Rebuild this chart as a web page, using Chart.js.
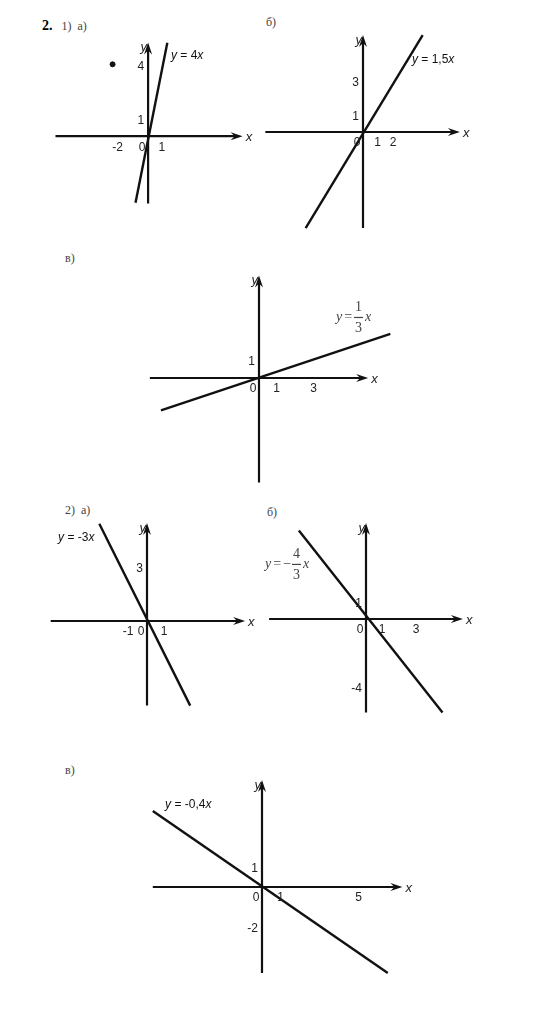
<!DOCTYPE html>
<html>
<head>
<meta charset="utf-8">
<script src="https://cdn.jsdelivr.net/npm/chart.js@4.4.1/dist/chart.umd.min.js"></script>
<style>
    body { margin: 0; background: #fff; }
    #page { position: relative; width: 550px; height: 1020px; overflow: hidden; }
    #page canvas { position: absolute; }
    .cap { position: absolute; font-family: "Liberation Serif", serif; font-size: 12px; line-height: 14px; color: #444; white-space: pre; }
    .num { font-weight: bold; color: #000; font-size: 14px; }
</style>
</head>
<body>
<div id="page">
    <div class="cap" style="left:42px;top:19px"><span class="num">2.</span>   1)  а)</div>
    <div class="cap" style="left:266px;top:15px">б)</div>
    <div class="cap" style="left:65px;top:251px">в)</div>
    <div class="cap" style="left:65px;top:503px">2)  а)</div>
    <div class="cap" style="left:267px;top:505px">б)</div>
    <div class="cap" style="left:65px;top:763px">в)</div>
</div>
<script>
// 1) а) y = 4x
const a1AxisX = [-6.26, 6.39];
const a1AxisY = [-3.74, 5.21];
const a1LineX = [-0.85, 1.3];
const a1LineY = [-3.7, 5.2];
const a1DotX = [-2.4];
const a1DotY = [4];
const a1TicksX = [-2, 1];
const a1TicksY = [1, 4];

// б) y = 1,5x
const b1AxisX = [-6.3, 6.25];
const b1AxisY = [-5.65, 5.7];
const b1LineX = [-3.7, 3.85];
const b1LineY = [-5.65, 5.7];
const b1TicksX = [1, 2];
const b1TicksY = [1, 3];

// в) y = 1/3 x
const c1AxisX = [-5.9, 5.9];
const c1AxisY = [-5.8, 5.7];
const c1LineX = [-5.3, 7.1];
const c1LineY = [-1.8, 2.45];
const c1TicksX = [1, 3];
const c1TicksY = [1];

// 2) а) y = -3x
const a2AxisX = [-5.35, 5.45];
const a2AxisY = [-4.7, 5.45];
const a2LineX = [-2.65, 2.4];
const a2LineY = [5.4, -4.7];
const a2TicksX = [-1, 1];
const a2TicksY = [3];

// б) y = -4/3 x
const b2AxisX = [-5.7, 5.7];
const b2AxisY = [-5.5, 5.65];
const b2LineX = [-3.95, 4.5];
const b2LineY = [5.2, -5.5];
const b2TicksX = [1, 3];
const b2TicksY = [1, -4];

// в) y = -0,4x
const c2AxisX = [-5.6, 7.2];
const c2AxisY = [-4.3, 5.35];
const c2LineX = [-5.6, 6.45];
const c2LineY = [3.8, -4.3];
const c2TicksX = [1, 5];
const c2TicksY = [1, -2];

const SANS = '"Liberation Sans", Arial, sans-serif';
const SERIF = '"Liberation Serif", serif';
const INK = '#111';

// box = [left, top, width, height], origin = pixel of (0,0), unit = px per 1
const panels = [
    { box: [40, 30, 220, 185], origin: [148, 137], unit: [15.5, 19],
      axisX: a1AxisX, axisY: a1AxisY, lineX: a1LineX, lineY: a1LineY, dotX: a1DotX, dotY: a1DotY,
      ticksX: a1TicksX, ticksY: a1TicksY,
      label: { at: [1.55, 4.47], runs: [['y', 1], [' = 4', 0], ['x', 1]] } },
    { box: [255, 28, 225, 205], origin: [363, 132], unit: [15.5, 17],
      axisX: b1AxisX, axisY: b1AxisY, lineX: b1LineX, lineY: b1LineY,
      ticksX: b1TicksX, ticksY: b1TicksY,
      label: { at: [3.16, 4.24], runs: [['y', 1], [' = 1,5', 0], ['x', 1]] } },
    { box: [140, 265, 265, 222], origin: [259, 378], unit: [18.5, 18],
      axisX: c1AxisX, axisY: c1AxisY, lineX: c1LineX, lineY: c1LineY,
      ticksX: c1TicksX, ticksY: c1TicksY,
      frac: { at: [4.16, 3.39], neg: false, num: '1', den: '3' } },
    { box: [40, 515, 220, 195], origin: [147, 621], unit: [18, 18],
      axisX: a2AxisX, axisY: a2AxisY, lineX: a2LineX, lineY: a2LineY,
      ticksX: a2TicksX, ticksY: a2TicksY,
      label: { at: [-4.94, 4.61], runs: [['y', 1], [' = -3', 0], ['x', 1]] } },
    { box: [255, 515, 225, 205], origin: [366, 619], unit: [17, 17],
      axisX: b2AxisX, axisY: b2AxisY, lineX: b2LineX, lineY: b2LineY,
      ticksX: b2TicksX, ticksY: b2TicksY,
      frac: { at: [-5.94, 3.24], neg: true, num: '4', den: '3' } },
    { box: [140, 772, 280, 205], origin: [262, 887], unit: [19.5, 20],
      axisX: c2AxisX, axisY: c2AxisY, lineX: c2LineX, lineY: c2LineY,
      ticksX: c2TicksX, ticksY: c2TicksY,
      label: { at: [-4.97, 4.1], runs: [['y', 1], [' = -0,4', 0], ['x', 1]] } }
];

/**
 * Punta de flecha estrecha en (x, y) mirando hacia dir.
 */
function arrowHead(ctx, x, y, dir) {
    ctx.save();
    ctx.translate(x, y);
    ctx.rotate(dir);
    ctx.beginPath();
    ctx.moveTo(0, 0);
    ctx.lineTo(-12, -4);
    ctx.lineTo(-8, 0);
    ctx.lineTo(-12, 4);
    ctx.closePath();
    ctx.fill();
    ctx.restore();
}

function drawRuns(ctx, runs, x, y) {
    ctx.textAlign = 'left';
    ctx.textBaseline = 'middle';
    runs.forEach(([t, it]) => {
        ctx.font = (it ? 'italic ' : '') + '12px ' + SANS;
        ctx.fillText(t, x, y);
        x += ctx.measureText(t).width;
    });
}

function drawFrac(ctx, f, x, y) {
    ctx.textBaseline = 'middle';
    ctx.textAlign = 'left';
    ctx.fillStyle = '#444';
    ctx.font = 'italic 14px ' + SERIF;
    ctx.fillText('y', x, y);
    x += ctx.measureText('y').width + 2;
    ctx.font = '14px ' + SERIF;
    ctx.fillText('=', x, y);
    x += ctx.measureText('=').width + 2;
    if (f.neg) {
        ctx.fillText('\u2212', x, y);
        x += ctx.measureText('\u2212').width + 1;
    }
    ctx.strokeStyle = '#444';
    ctx.lineWidth = 1.2;
    ctx.beginPath();
    ctx.moveTo(x, y + 0.5);
    ctx.lineTo(x + 9, y + 0.5);
    ctx.stroke();
    ctx.textAlign = 'center';
    ctx.fillText(f.num, x + 4.5, y - 10);
    ctx.fillText(f.den, x + 4.5, y + 11);
    ctx.textAlign = 'left';
    ctx.font = 'italic 14px ' + SERIF;
    ctx.fillText('x', x + 11, y);
}

/**
 * Ejes con flechas, marcas numéricas y rótulo de la recta.
 */
function axesPlugin(p) {
    return {
        id: 'axes',
        beforeDatasetsDraw(chart) {
            const { ctx, scales: { x, y } } = chart;
            const ox = x.getPixelForValue(0);
            const oy = y.getPixelForValue(0);
            const x0 = x.getPixelForValue(p.axisX[0]);
            const x1 = x.getPixelForValue(p.axisX[1]);
            const yb = y.getPixelForValue(p.axisY[0]);
            const yt = y.getPixelForValue(p.axisY[1]);
            ctx.save();
            ctx.strokeStyle = INK;
            ctx.fillStyle = INK;
            ctx.lineWidth = 2.2;
            ctx.beginPath();
            ctx.moveTo(x0, oy);
            ctx.lineTo(x1 - 6, oy);
            ctx.moveTo(ox, yb);
            ctx.lineTo(ox, yt + 6);
            ctx.stroke();
            arrowHead(ctx, x1, oy, 0);
            arrowHead(ctx, ox, yt, -Math.PI / 2);
            ctx.restore();
        },
        afterDatasetsDraw(chart) {
            const { ctx, scales: { x, y } } = chart;
            const ox = x.getPixelForValue(0);
            const oy = y.getPixelForValue(0);
            const x1 = x.getPixelForValue(p.axisX[1]);
            const yt = y.getPixelForValue(p.axisY[1]);
            ctx.save();
            ctx.fillStyle = '#222';
            ctx.font = '12px ' + SANS;
            ctx.textAlign = 'center';
            ctx.textBaseline = 'top';
            p.ticksX.forEach(v => ctx.fillText(String(v), x.getPixelForValue(v) - 1, oy + 5));
            ctx.fillText('0', ox - 6, oy + 5);
            ctx.textAlign = 'right';
            ctx.textBaseline = 'middle';
            p.ticksY.forEach(v => ctx.fillText(String(v), ox - 4, y.getPixelForValue(v) + 2));
            ctx.font = 'italic 13px ' + SANS;
            ctx.textAlign = 'left';
            ctx.fillText('x', x1 + 3, oy + 1);
            ctx.textAlign = 'right';
            ctx.fillText('y', ox - 1, yt + 5);
            if (p.label) {
                ctx.fillStyle = INK;
                drawRuns(ctx, p.label.runs, x.getPixelForValue(p.label.at[0]), y.getPixelForValue(p.label.at[1]));
            }
            if (p.frac) {
                drawFrac(ctx, p.frac, x.getPixelForValue(p.frac.at[0]), y.getPixelForValue(p.frac.at[1]));
            }
            ctx.restore();
        }
    };
}

const page = document.getElementById('page');

panels.forEach(p => {
    const [l, t, w, h] = p.box;
    const [ox, oy] = p.origin;
    const [ux, uy] = p.unit;
    const canvas = document.createElement('canvas');
    canvas.width = w;
    canvas.height = h;
    canvas.style.left = l + 'px';
    canvas.style.top = t + 'px';
    page.appendChild(canvas);

    const datasets = [{
        data: p.lineX.map((v, i) => ({ x: v, y: p.lineY[i] })),
        showLine: true,
        borderColor: INK,
        borderWidth: 2.4,
        pointRadius: 0
    }];
    if (p.dotX) {
        datasets.push({
            data: p.dotX.map((v, i) => ({ x: v, y: p.dotY[i] })),
            pointRadius: 2.5,
            backgroundColor: INK,
            borderColor: INK
        });
    }

    new Chart(canvas.getContext('2d'), {
        type: 'scatter',
        data: { datasets },
        options: {
            responsive: false,
            animation: false,
            layout: { padding: 0 },
            plugins: { legend: { display: false }, tooltip: { enabled: false } },
            scales: {
                x: { type: 'linear', display: false, min: (l - ox) / ux, max: (l + w - ox) / ux },
                y: { type: 'linear', display: false, min: (oy - t - h) / uy, max: (oy - t) / uy }
            }
        },
        plugins: [axesPlugin(p)]
    });
});
</script>
</body>
</html>
